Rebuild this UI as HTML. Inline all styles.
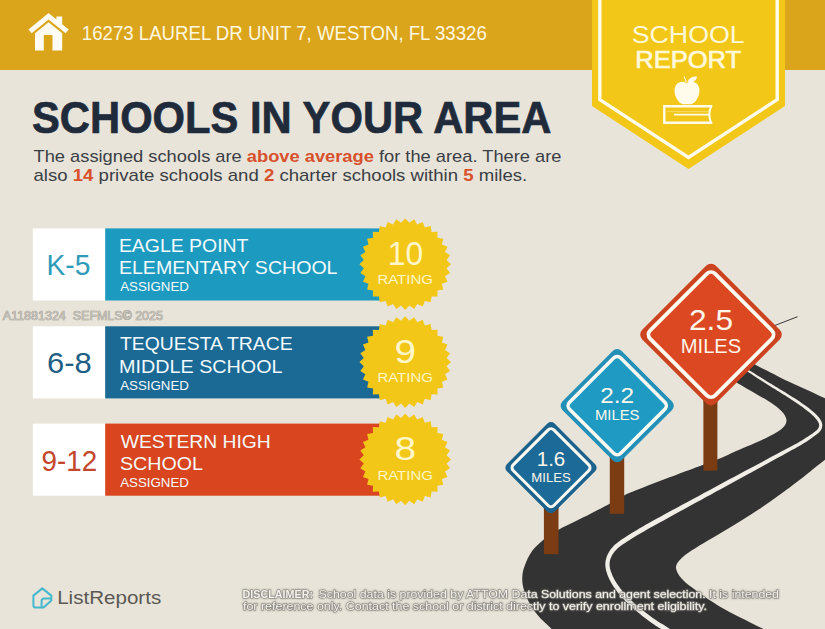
<!DOCTYPE html>
<html lang="en"><head><meta charset="utf-8"><title>School Report</title>
<style>html,body{margin:0;padding:0;background:#E8E4D9;}body{width:825px;height:629px;overflow:hidden;position:relative;font-family:'Liberation Sans', sans-serif;}svg{display:block;position:absolute;left:0;top:0;}text{font-family:'Liberation Sans', sans-serif;}</style>
</head><body>
<svg width="825" height="629" viewBox="0 0 825 629">
<defs><filter id="sh" x="-5%" y="-30%" width="110%" height="160%"><feDropShadow dx="0" dy="0" stdDeviation="0.8" flood-color="#6A6863" flood-opacity="0.7"/></filter></defs>
<rect x="0" y="0" width="825" height="629" fill="#E8E4D9"/>
<rect x="0" y="0" width="825" height="70" fill="#DAA51B"/>
<g fill="#FFFDF3">
<path d="M48.6 13.1 L56.4 19.5 L56.4 16.6 L62.2 16.6 L62.2 24.3 L68.7 29.6 L65.6 33.3 L48.6 19.6 L31.6 33.3 L28.5 29.6 Z"/>
<path d="M48.6 22.3 L62.2 33.3 L62.2 50.6 L52.5 50.6 L52.5 35 L43.8 35 L43.8 50.6 L35 50.6 L35 33.3 Z"/>
</g>
<text x="81.8" y="40.2" font-size="20.2" fill="#FFF8E0" textLength="405" lengthAdjust="spacingAndGlyphs">16273 LAUREL DR UNIT 7, WESTON, FL 33326</text>
<path d="M592 0 L785 0 L785 106 L688.5 169 L592 106 Z" fill="#F2C718"/>
<path d="M599.8 0 L599.8 99.6 L688.5 157.4 L777.2 99.6 L777.2 0" fill="none" stroke="#FFFCEB" stroke-width="3.4"/>
<text x="688.2" y="43" font-size="24.6" fill="#FFF9DA" text-anchor="middle" textLength="113" lengthAdjust="spacingAndGlyphs">SCHOOL</text>
<text x="688.2" y="67.9" font-size="24.2" fill="#FFF9DA" text-anchor="middle" textLength="106" lengthAdjust="spacingAndGlyphs" stroke="#FFF9DA" stroke-width="0.7">REPORT</text>
<g fill="#FFFCEB">
<path d="M686.8 83.6 C684.6 81.4 679.5 80.8 676.4 84.6 C673.2 88.8 674.3 96 678.4 101.2 C680.6 104 683.6 104.9 686.9 104 C690.2 104.9 693.2 104 695.5 101.2 C699.8 96 700.8 88.8 697.6 84.6 C694.5 80.8 689.2 81.4 686.8 83.6 Z"/>
<path d="M687.6 82.6 C688.2 78.6 691.5 76.2 697 76.4 C696.8 80.4 693 83 687.6 82.6 Z"/>
<path d="M683.6 76.6 L684.6 76.2 L686.9 82.2 L685.9 82.6 Z"/>
</g>
<path d="M711.6 106.3 L664.3 106.3 L664.3 122.7 L711.6 122.7" fill="none" stroke="#FFFCEB" stroke-width="2.4" stroke-linejoin="miter"/>
<path d="M711.8 105.1 Q706.8 114.5 711.8 123.9" fill="none" stroke="#FFFCEB" stroke-width="2"/>
<path d="M674 114.6 L709 114.6" fill="none" stroke="#FFFCEB" stroke-width="1.9"/>
<path d="M667 111.6 L709.5 111.6" fill="none" stroke="#FFFCEB" stroke-width="0.7" opacity="0.55"/>
<text x="32" y="132.8" font-size="44.6" font-weight="bold" fill="#1F2B3A" stroke="#1F2B3A" stroke-width="0.7" textLength="519.5" lengthAdjust="spacingAndGlyphs">SCHOOLS IN YOUR AREA</text>
<text x="33.5" y="162" font-size="17" fill="#3A3E45" textLength="528" lengthAdjust="spacingAndGlyphs">The assigned schools are <tspan font-weight="bold" fill="#D8502B">above average</tspan> for the area. There are</text>
<text x="33.5" y="181" font-size="17" fill="#3A3E45" textLength="493.8" lengthAdjust="spacingAndGlyphs">also <tspan font-weight="bold" fill="#D8502B">14</tspan> private schools and <tspan font-weight="bold" fill="#D8502B">2</tspan> charter schools within <tspan font-weight="bold" fill="#D8502B">5</tspan> miles.</text>
<rect x="32.8" y="228.4" width="72.6" height="72.1" fill="#FFFFFF"/>
<rect x="105.2" y="228.4" width="295" height="72.1" fill="#1D9AC0"/>
<text x="46.6" y="274.6" font-size="29.6" fill="#2E9BB8" textLength="43.8" lengthAdjust="spacingAndGlyphs">K-5</text>
<text x="118.9" y="251.9" font-size="19" fill="#F4FAFC" textLength="129.6" lengthAdjust="spacingAndGlyphs">EAGLE POINT</text>
<text x="118.9" y="274.1" font-size="19" fill="#F4FAFC" textLength="218.6" lengthAdjust="spacingAndGlyphs">ELEMENTARY SCHOOL</text>
<text x="120.2" y="291.3" font-size="12.6" fill="#F4FAFC" textLength="68.8" lengthAdjust="spacingAndGlyphs">ASSIGNED</text>
<polygon points="405.2,218.4 409.3,222.8 414.1,219.3 417.3,224.4 422.7,221.9 424.8,227.5 430.6,226.1 431.6,232.0 437.6,231.8 437.4,237.8 443.3,238.8 441.9,244.6 447.5,246.7 445.0,252.1 450.1,255.3 446.6,260.1 451.0,264.2 446.6,268.3 450.1,273.1 445.0,276.3 447.5,281.7 441.9,283.8 443.3,289.6 437.4,290.6 437.6,296.6 431.6,296.4 430.6,302.3 424.8,300.9 422.7,306.5 417.3,304.0 414.1,309.1 409.3,305.6 405.2,310.0 401.1,305.6 396.3,309.1 393.1,304.0 387.7,306.5 385.6,300.9 379.8,302.3 378.8,296.4 372.8,296.6 373.0,290.6 367.1,289.6 368.5,283.8 362.9,281.7 365.4,276.3 360.3,273.1 363.8,268.3 359.4,264.2 363.8,260.1 360.3,255.3 365.4,252.1 362.9,246.7 368.5,244.6 367.1,238.8 373.0,237.8 372.8,231.8 378.8,232.0 379.8,226.1 385.6,227.5 387.7,221.9 393.1,224.4 396.3,219.3 401.1,222.8" fill="#F2C718"/>
<text x="405.4" y="264.8" font-size="33.4" fill="#FFF7C9" text-anchor="middle" textLength="35.4" lengthAdjust="spacingAndGlyphs">10</text>
<text x="405.2" y="284.4" font-size="13.6" fill="#FFF7C9" text-anchor="middle" textLength="55.6" lengthAdjust="spacingAndGlyphs">RATING</text>
<rect x="32.8" y="326.3" width="72.6" height="72.1" fill="#FFFFFF"/>
<rect x="105.2" y="326.3" width="295" height="72.1" fill="#1B6995"/>
<text x="47" y="373.0" font-size="29.6" fill="#1F5F85" textLength="44.8" lengthAdjust="spacingAndGlyphs">6-8</text>
<text x="120" y="350.3" font-size="19" fill="#F4FAFC" textLength="172.6" lengthAdjust="spacingAndGlyphs">TEQUESTA TRACE</text>
<text x="119" y="372.5" font-size="19" fill="#F4FAFC" textLength="163.6" lengthAdjust="spacingAndGlyphs">MIDDLE SCHOOL</text>
<text x="120.2" y="389.7" font-size="12.6" fill="#F4FAFC" textLength="68.8" lengthAdjust="spacingAndGlyphs">ASSIGNED</text>
<polygon points="405.2,316.3 409.3,320.7 414.1,317.2 417.3,322.3 422.7,319.8 424.8,325.4 430.6,324.0 431.6,329.9 437.6,329.7 437.4,335.7 443.3,336.7 441.9,342.5 447.5,344.6 445.0,350.0 450.1,353.2 446.6,358.0 451.0,362.1 446.6,366.2 450.1,371.0 445.0,374.2 447.5,379.6 441.9,381.7 443.3,387.5 437.4,388.5 437.6,394.5 431.6,394.3 430.6,400.2 424.8,398.8 422.7,404.4 417.3,401.9 414.1,407.0 409.3,403.5 405.2,407.9 401.1,403.5 396.3,407.0 393.1,401.9 387.7,404.4 385.6,398.8 379.8,400.2 378.8,394.3 372.8,394.5 373.0,388.5 367.1,387.5 368.5,381.7 362.9,379.6 365.4,374.2 360.3,371.0 363.8,366.2 359.4,362.1 363.8,358.0 360.3,353.2 365.4,350.0 362.9,344.6 368.5,342.5 367.1,336.7 373.0,335.7 372.8,329.7 378.8,329.9 379.8,324.0 385.6,325.4 387.7,319.8 393.1,322.3 396.3,317.2 401.1,320.7" fill="#F2C718"/>
<text x="405.4" y="362.7" font-size="33.4" fill="#FFF7C9" text-anchor="middle" textLength="21.6" lengthAdjust="spacingAndGlyphs">9</text>
<text x="405.2" y="382.3" font-size="13.6" fill="#FFF7C9" text-anchor="middle" textLength="55.6" lengthAdjust="spacingAndGlyphs">RATING</text>
<rect x="32.8" y="423.6" width="72.6" height="72.1" fill="#FFFFFF"/>
<rect x="105.2" y="423.6" width="295" height="72.1" fill="#D9451F"/>
<text x="41.6" y="470.6" font-size="29.6" fill="#C4472C" textLength="55.6" lengthAdjust="spacingAndGlyphs">9-12</text>
<text x="120.8" y="447.9" font-size="19" fill="#F4FAFC" textLength="149.9" lengthAdjust="spacingAndGlyphs">WESTERN HIGH</text>
<text x="120" y="470.1" font-size="19" fill="#F4FAFC" textLength="82.9" lengthAdjust="spacingAndGlyphs">SCHOOL</text>
<text x="120.2" y="487.3" font-size="12.6" fill="#F4FAFC" textLength="68.8" lengthAdjust="spacingAndGlyphs">ASSIGNED</text>
<polygon points="405.2,413.6 409.3,418.0 414.1,414.5 417.3,419.6 422.7,417.1 424.8,422.7 430.6,421.3 431.6,427.2 437.6,427.0 437.4,433.0 443.3,434.0 441.9,439.8 447.5,441.9 445.0,447.3 450.1,450.5 446.6,455.3 451.0,459.4 446.6,463.5 450.1,468.3 445.0,471.5 447.5,476.9 441.9,479.0 443.3,484.8 437.4,485.8 437.6,491.8 431.6,491.6 430.6,497.5 424.8,496.1 422.7,501.7 417.3,499.2 414.1,504.3 409.3,500.8 405.2,505.2 401.1,500.8 396.3,504.3 393.1,499.2 387.7,501.7 385.6,496.1 379.8,497.5 378.8,491.6 372.8,491.8 373.0,485.8 367.1,484.8 368.5,479.0 362.9,476.9 365.4,471.5 360.3,468.3 363.8,463.5 359.4,459.4 363.8,455.3 360.3,450.5 365.4,447.3 362.9,441.9 368.5,439.8 367.1,434.0 373.0,433.0 372.8,427.0 378.8,427.2 379.8,421.3 385.6,422.7 387.7,417.1 393.1,419.6 396.3,414.5 401.1,418.0" fill="#F2C718"/>
<text x="405.4" y="460.0" font-size="33.4" fill="#FFF7C9" text-anchor="middle" textLength="21.6" lengthAdjust="spacingAndGlyphs">8</text>
<text x="405.2" y="479.6" font-size="13.6" fill="#FFF7C9" text-anchor="middle" textLength="55.6" lengthAdjust="spacingAndGlyphs">RATING</text>
<text x="2.8" y="319.6" font-size="12" fill="#C2BFB7" stroke="#97948C" stroke-width="0.6" paint-order="stroke" lengthAdjust="spacingAndGlyphs" textLength="63">A11881324</text>
<text x="72.8" y="319.6" font-size="12" fill="#C2BFB7" stroke="#97948C" stroke-width="0.6" paint-order="stroke" lengthAdjust="spacingAndGlyphs" textLength="90">SEFMLS© 2025</text>
<path d="M772 326.6 L797.5 316.7" stroke="#3A3A3A" stroke-width="1" fill="none"/>
<path d="M740.0 355.0 C742.6 356.7 750.8 362.1 755.9 365.0 C761.0 367.9 765.5 370.0 770.5 372.5 C775.5 375.0 779.9 377.4 785.6 380.2 C791.4 382.9 798.4 386.0 805.0 389.0 C811.6 392.0 819.2 395.6 825.0 398.3 C830.8 401.0 837.5 403.9 840.0 405.0 L840 449 C837.5 450.8 829.7 456.2 825.0 459.7 C820.3 463.2 816.0 466.8 812.0 470.0 C808.0 473.2 805.9 475.2 800.8 479.1 C795.7 483.0 787.9 488.9 781.4 493.6 C774.9 498.3 768.5 502.8 762.0 507.2 C755.5 511.6 749.1 515.8 742.6 519.8 C736.1 523.8 729.7 527.6 723.2 531.5 C716.7 535.4 709.6 539.6 703.8 543.1 C698.0 546.6 692.2 550.1 688.3 552.8 C684.4 555.5 682.5 557.2 680.5 559.2 C678.5 561.2 677.3 562.9 676.6 564.6 C675.9 566.3 675.8 567.6 676.3 569.5 C676.8 571.4 678.0 573.9 679.5 576.0 C681.0 578.1 682.9 580.1 685.0 582.0 C687.1 583.9 688.2 584.7 692.1 587.6 C696.0 590.5 702.1 595.2 708.2 599.2 C714.4 603.2 722.1 608.0 729.0 611.8 C735.9 615.6 744.0 619.3 749.7 622.2 C755.5 625.1 759.3 627.0 763.5 629.0 C767.7 631.0 773.1 633.6 775.0 634.5 L562 638 C560.3 636.5 555.8 632.8 551.7 629.0 C547.6 625.2 541.5 619.7 537.6 615.0 C533.7 610.3 530.8 605.4 528.4 600.9 C526.0 596.4 524.4 592.1 523.4 588.1 C522.4 584.1 522.1 580.6 522.3 576.8 C522.5 573.0 523.2 569.8 524.8 565.5 C526.4 561.2 528.8 555.5 531.9 551.3 C535.0 547.0 538.8 543.6 543.2 540.0 C547.6 536.4 553.2 532.8 558.5 529.7 C563.8 526.6 569.6 524.2 575.0 521.5 C580.4 518.8 585.2 516.5 591.0 513.5 C596.8 510.5 604.2 506.7 609.7 503.7 C615.2 500.7 620.3 497.5 624.1 495.5 C627.9 493.5 625.7 494.5 632.5 491.8 C639.3 489.1 653.1 483.7 665.0 479.1 C676.9 474.6 695.1 467.8 703.8 464.5 C712.5 461.2 711.6 461.9 717.4 459.5 C723.2 457.1 732.4 452.8 738.7 450.0 C745.0 447.2 750.1 445.2 755.0 443.0 C759.9 440.8 764.2 438.9 768.0 437.0 C771.8 435.1 775.3 433.2 778.0 431.5 C780.7 429.8 782.6 428.3 784.0 426.5 C785.4 424.7 786.6 422.8 786.5 420.5 C786.4 418.2 785.4 415.6 783.2 412.9 C781.0 410.2 778.1 407.6 773.5 404.4 C768.9 401.2 761.3 397.0 755.3 393.5 C749.3 390.0 742.8 386.1 737.7 383.2 C732.7 380.3 727.1 377.2 725.0 376.0 Z" fill="#333333"/>
<polygon points="743.5,369.0 743.8,369.2 744.1,369.5 744.5,369.7 745.0,370.0 745.6,370.4 746.2,370.8 747.1,371.4 748.0,372.0 749.2,372.7 750.6,373.6 752.1,374.6 753.7,375.7 755.4,376.8 757.1,377.9 758.8,378.9 760.4,380.0 761.9,381.0 763.5,382.0 765.1,383.0 766.6,383.9 768.2,384.9 769.8,385.9 771.3,386.9 772.8,387.9 774.4,388.8 775.9,389.8 777.4,390.7 778.8,391.6 780.3,392.5 781.8,393.5 783.3,394.4 784.8,395.3 786.3,396.3 787.8,397.3 789.4,398.3 790.9,399.2 792.4,400.2 793.9,401.2 795.4,402.2 796.9,403.2 798.4,404.2 799.8,405.2 801.3,406.3 802.8,407.3 804.2,408.4 805.6,409.4 806.9,410.4 808.1,411.4 809.2,412.3 810.3,413.2 811.3,414.1 812.2,415.0 813.1,415.8 814.0,416.6 814.7,417.4 815.4,418.2 816.1,419.0 816.7,419.8 817.2,420.5 817.7,421.2 818.1,421.9 818.4,422.5 818.7,423.1 818.9,423.7 819.0,424.3 819.1,424.9 819.1,425.4 819.1,425.9 819.0,426.5 818.8,427.0 818.7,427.5 818.4,428.0 818.1,428.6 817.8,429.0 817.4,429.4 816.9,429.9 816.4,430.4 815.6,431.0 814.8,431.7 813.7,432.5 812.5,433.4 811.0,434.4 809.4,435.5 807.7,436.7 805.9,437.8 804.1,439.0 802.2,440.2 800.4,441.3 798.7,442.3 797.2,443.2 795.7,444.0 794.1,444.8 792.3,445.8 790.1,446.9 787.5,448.3 784.3,450.0 780.4,452.1 775.9,454.5 771.0,457.1 765.7,460.0 760.2,462.9 754.6,465.9 749.2,468.8 744.0,471.6 739.0,474.2 734.0,476.9 728.9,479.6 723.9,482.3 718.9,485.0 713.9,487.7 708.9,490.4 703.9,493.1 698.8,495.9 693.4,498.8 688.0,501.7 682.6,504.6 677.4,507.4 672.5,510.1 667.9,512.6 663.8,514.8 660.4,516.7 657.4,518.3 654.7,519.8 652.4,521.1 650.2,522.3 648.1,523.4 646.0,524.6 643.8,525.9 641.5,527.3 639.2,528.6 637.0,529.9 634.8,531.2 632.6,532.5 630.6,533.8 628.6,535.0 626.7,536.2 624.9,537.4 623.2,538.5 621.6,539.6 620.0,540.7 618.5,541.8 617.1,542.9 615.7,544.0 614.5,545.1 613.3,546.3 612.3,547.4 611.4,548.5 610.5,549.6 609.8,550.7 609.1,551.8 608.5,552.9 607.9,554.0 607.4,555.1 606.9,556.2 606.5,557.3 606.2,558.4 605.9,559.5 605.7,560.6 605.5,561.7 605.4,562.8 605.3,563.9 605.3,565.0 605.4,566.1 605.5,567.2 605.7,568.3 605.9,569.4 606.1,570.5 606.4,571.6 606.8,572.8 607.2,574.0 607.6,575.2 608.1,576.4 608.7,577.7 609.2,579.0 609.9,580.3 610.6,581.6 611.3,582.9 612.1,584.2 612.9,585.6 613.8,587.0 614.8,588.3 615.7,589.7 616.7,591.1 617.7,592.4 618.8,593.7 619.8,595.0 620.9,596.3 622.0,597.6 623.2,598.8 624.4,600.1 625.6,601.4 626.9,602.6 628.2,603.9 629.6,605.2 631.0,606.5 632.5,607.7 634.0,609.0 635.5,610.3 637.0,611.5 638.5,612.8 640.1,614.1 641.7,615.4 643.3,616.7 645.0,618.0 646.7,619.3 648.3,620.5 650.0,621.7 651.7,622.9 653.3,624.1 655.0,625.2 656.6,626.2 658.2,627.2 659.8,628.2 661.4,629.1 662.9,630.1 664.3,631.0 665.8,632.0 667.3,633.0 668.8,634.0 670.2,635.0 671.6,635.9 672.8,636.7 673.9,637.5 674.7,638.0 677.3,634.0 676.6,633.5 675.5,632.8 674.3,631.9 672.9,631.0 671.5,630.0 669.9,629.0 668.4,628.0 666.9,627.0 665.4,626.0 663.9,625.1 662.3,624.1 660.7,623.2 659.1,622.2 657.5,621.2 655.9,620.1 654.3,619.1 652.8,617.9 651.1,616.8 649.5,615.5 647.9,614.3 646.2,613.0 644.6,611.7 643.0,610.5 641.5,609.2 639.9,608.0 638.4,606.7 637.0,605.5 635.5,604.3 634.1,603.0 632.7,601.8 631.4,600.6 630.1,599.4 628.9,598.1 627.7,596.9 626.5,595.7 625.4,594.5 624.3,593.3 623.3,592.1 622.3,590.9 621.3,589.6 620.3,588.4 619.4,587.1 618.4,585.8 617.5,584.5 616.7,583.2 615.9,581.9 615.1,580.7 614.4,579.4 613.8,578.2 613.2,577.1 612.6,575.9 612.1,574.8 611.7,573.6 611.3,572.5 610.9,571.5 610.6,570.4 610.3,569.4 610.0,568.4 609.9,567.5 609.7,566.6 609.6,565.8 609.6,564.9 609.6,564.0 609.6,563.2 609.7,562.3 609.8,561.4 610.0,560.5 610.2,559.6 610.5,558.7 610.9,557.8 611.3,556.9 611.7,556.0 612.2,555.0 612.8,554.1 613.4,553.2 614.1,552.2 614.8,551.3 615.6,550.4 616.5,549.4 617.5,548.5 618.6,547.5 619.9,546.5 621.2,545.5 622.6,544.5 624.2,543.5 625.8,542.4 627.5,541.3 629.3,540.2 631.1,539.0 633.1,537.8 635.1,536.6 637.2,535.3 639.4,534.0 641.6,532.7 643.9,531.4 646.2,530.1 648.4,528.8 650.5,527.6 652.6,526.5 654.7,525.3 657.1,524.0 659.7,522.6 662.7,520.9 666.2,519.0 670.2,516.8 674.7,514.3 679.7,511.6 684.9,508.7 690.2,505.8 695.6,502.8 701.0,499.9 706.1,497.1 711.1,494.4 716.1,491.6 721.1,488.9 726.0,486.2 731.0,483.5 736.0,480.7 741.0,478.0 746.0,475.2 751.2,472.4 756.6,469.4 762.1,466.4 767.5,463.4 772.8,460.5 777.8,457.8 782.2,455.4 786.1,453.2 789.3,451.5 791.8,450.1 794.0,449.0 795.8,448.0 797.4,447.1 798.9,446.3 800.5,445.3 802.2,444.3 804.1,443.1 806.0,441.9 807.8,440.7 809.6,439.5 811.4,438.3 813.0,437.1 814.4,436.1 815.7,435.1 816.8,434.3 817.7,433.6 818.5,432.9 819.2,432.3 819.8,431.6 820.3,431.0 820.8,430.3 821.2,429.6 821.6,428.8 821.9,428.0 822.1,427.1 822.2,426.3 822.3,425.4 822.3,424.6 822.1,423.7 821.9,422.9 821.7,422.0 821.3,421.2 820.8,420.3 820.3,419.5 819.8,418.7 819.2,417.8 818.5,417.0 817.8,416.2 817.0,415.3 816.1,414.5 815.3,413.6 814.3,412.7 813.3,411.8 812.2,410.9 811.1,410.0 809.9,409.0 808.7,408.0 807.4,407.0 806.0,406.0 804.5,405.0 803.0,403.9 801.5,402.9 800.0,401.8 798.5,400.8 797.0,399.8 795.5,398.8 793.9,397.8 792.4,396.9 790.8,395.9 789.3,394.9 787.7,394.0 786.2,393.1 784.7,392.1 783.2,391.2 781.7,390.3 780.2,389.4 778.7,388.5 777.2,387.6 775.7,386.7 774.2,385.7 772.6,384.8 771.1,383.8 769.5,382.9 767.9,381.9 766.3,380.9 764.8,380.0 763.2,379.0 761.6,378.0 760.0,377.0 758.3,376.0 756.6,374.9 754.9,373.8 753.3,372.8 751.7,371.8 750.3,371.0 749.2,370.2 748.2,369.6 747.3,369.1 746.7,368.6 746.1,368.3 745.6,368.0 745.2,367.7 744.8,367.5 744.5,367.4" fill="#F1EEE7"/>
<rect x="703.4" y="396" width="14" height="74.6" fill="#7B3B13"/>
<rect x="703.4" y="396" width="14" height="7" fill="#5E2C0E" opacity="0.4"/>
<rect x="609.8" y="452" width="14.4" height="61.8" fill="#7B3B13"/>
<rect x="609.8" y="452" width="14.4" height="6" fill="#5E2C0E" opacity="0.4"/>
<rect x="543.9" y="505" width="14.6" height="49.2" fill="#7B3B13"/>
<rect x="543.9" y="505" width="14.6" height="5" fill="#5E2C0E" opacity="0.4"/>
<rect x="-52.11" y="-52.11" width="104.23" height="104.23" rx="7" ry="7" transform="translate(711,334.6) rotate(45)" fill="#CC4320"/>
<rect x="-45.95" y="-45.95" width="91.90" height="91.90" rx="6" ry="6" transform="translate(711,334.6) rotate(45)" fill="#DB4821" stroke="#FFFBF2" stroke-width="3.8"/>
<text x="711" y="330.2" font-size="29.4" fill="#FFF6EA" text-anchor="middle" textLength="44" lengthAdjust="spacingAndGlyphs">2.5</text>
<text x="711" y="353.4" font-size="20.2" fill="#FFF6EA" text-anchor="middle" textLength="60.4" lengthAdjust="spacingAndGlyphs">MILES</text>
<rect x="-41.78" y="-41.78" width="83.56" height="83.56" rx="6" ry="6" transform="translate(617.2,405.7) rotate(45)" fill="#2390B8"/>
<rect x="-36.18" y="-36.18" width="72.37" height="72.37" rx="5" ry="5" transform="translate(617.2,405.7) rotate(45)" fill="#1E9AC3" stroke="#FFFBF2" stroke-width="3.5"/>
<text x="617.2" y="402.7" font-size="22.2" fill="#FFF6EA" text-anchor="middle" textLength="33.8" lengthAdjust="spacingAndGlyphs">2.2</text>
<text x="617.2" y="420.2" font-size="14.4" fill="#FFF6EA" text-anchor="middle" textLength="44.6" lengthAdjust="spacingAndGlyphs">MILES</text>
<rect x="-33.71" y="-33.71" width="67.42" height="67.42" rx="5" ry="5" transform="translate(551,467.7) rotate(45)" fill="#1C628D"/>
<rect x="-28.75" y="-28.75" width="57.50" height="57.50" rx="4" ry="4" transform="translate(551,467.7) rotate(45)" fill="#1B6A97" stroke="#FFFBF2" stroke-width="3.0"/>
<text x="551" y="465.8" font-size="20.6" fill="#FFF6EA" text-anchor="middle" textLength="28.5" lengthAdjust="spacingAndGlyphs">1.6</text>
<text x="551" y="482.2" font-size="12.8" fill="#FFF6EA" text-anchor="middle" textLength="39.4" lengthAdjust="spacingAndGlyphs">MILES</text>
<g fill="none" stroke="#45B8CC" stroke-width="2" stroke-linejoin="round" stroke-linecap="round">
<path d="M33.4 595.6 L42.3 588.4 L51.3 595.6 L51.3 600.6 L43.6 607.4 L35.2 607.4 C34.2 607.4 33.4 606.6 33.4 605.6 Z"/>
<path d="M41.6 607.2 L41.6 601.2 C41.6 599.6 42.8 598.6 44.2 598.6 L51 598.6"/>
</g>
<text x="57.2" y="604.4" font-size="19.2" fill="#5A5853" textLength="104" lengthAdjust="spacingAndGlyphs">ListReports</text>
<text x="242.6" y="597.8" fill="#F4F2EC" stroke="#8A8781" stroke-width="1.1" paint-order="stroke" font-size="11.8" lengthAdjust="spacingAndGlyphs" style="filter:url(#sh)" font-weight="bold" textLength="70.4">DISCLAIMER:</text>
<text x="318.6" y="597.8" fill="#F4F2EC" stroke="#8A8781" stroke-width="1.1" paint-order="stroke" font-size="11.8" lengthAdjust="spacingAndGlyphs" style="filter:url(#sh)" textLength="460.4">School data is provided by ATTOM Data Solutions and agent selection. It is intended</text>
<text x="243" y="610" fill="#F4F2EC" stroke="#8A8781" stroke-width="1.1" paint-order="stroke" font-size="11.8" lengthAdjust="spacingAndGlyphs" style="filter:url(#sh)" textLength="464">for reference only. Contact the school or district directly to verify enrollment eligibility.</text>
</svg>
</body></html>
